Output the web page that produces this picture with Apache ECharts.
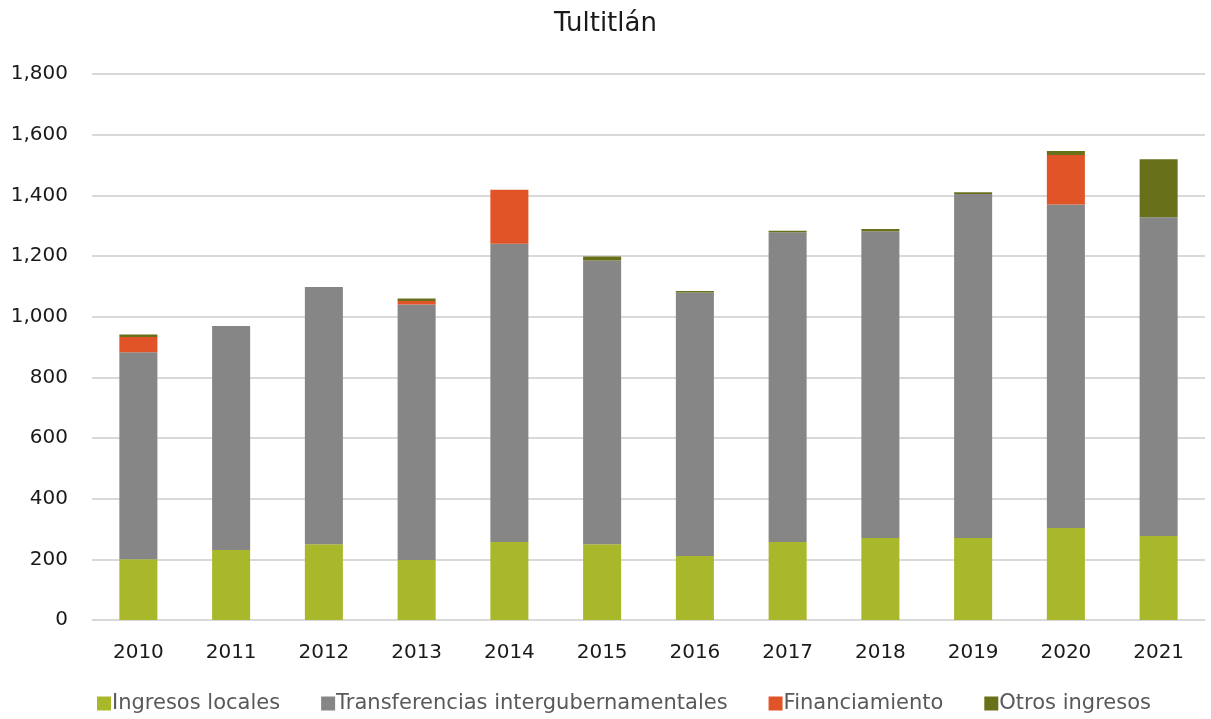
<!DOCTYPE html>
<html>
<head>
<meta charset="utf-8">
<script src="https://cdn.jsdelivr.net/npm/echarts@6/dist/echarts.min.js"></script>
<style>
html,body{margin:0;padding:0;background:#fff;}
#chart{width:1211px;height:719px;}
</style>
</head>
<body>
<div id="chart"></div>
<script>
var years=['2010','2011','2012','2013','2014','2015','2016','2017','2018','2019','2020','2021'];
var seriesNames=['Ingresos locales','Transferencias intergubernamentales','Financiamiento','Otros ingresos'];
var ingresosLocales=[200,231,250,198,257,250,211,257,270,270,303,277];
var transferencias=[683,738,848,842,983,935,869,1021,1012,1134,1067,1051];
var financiamiento=[50,0,0,12,178,0,0,0,0,0,163,0];
var otrosIngresos=[8,0,0,8,0,13,5,5,7,6,13,191];
var colors=['#A8B82A','#868686','#E05427','#687119'];

var myChart=echarts.init(document.getElementById('chart'));
var font='"DejaVu Sans", Helvetica, Arial, sans-serif';
function bar(name,data,color){
    return {
        name:name,
        type:'bar',
        stack:'total',
        barWidth:'41%',
        itemStyle:{color:color},
        data:data
    };
}
var option={
    animation:false,
    color:colors,
    title:{
        text:'Tultitlán',
        left:'center',
        top:6,
        textStyle:{fontFamily:font,fontSize:26,fontWeight:'normal',color:'#1a1a1a'}
    },
    legend:{
        bottom:0,
        left:92,
        itemWidth:14,
        itemHeight:14,
        itemGap:41,
        icon:'rect',
        textStyle:{fontFamily:font,fontSize:21,color:'#595959',padding:[0,0,0,-4]},
        data:seriesNames
    },
    grid:{left:92,right:6,top:74,bottom:99},
    xAxis:{
        type:'category',
        data:years,
        axisLine:{lineStyle:{color:'#d9d9d9',width:1}},
        axisTick:{show:false},
        axisLabel:{fontFamily:font,fontSize:20,color:'#1a1a1a',margin:23}
    },
    yAxis:{
        type:'value',
        min:0,
        max:1800,
        interval:200,
        axisLine:{show:false},
        axisTick:{show:false},
        splitLine:{lineStyle:{color:'#d9d9d9',width:2}},
        axisLabel:{
            fontFamily:font,fontSize:20,color:'#1a1a1a',margin:24,
            formatter:function(v){return v.toLocaleString('en-US');}
        }
    },
    series:[
        bar(seriesNames[0],ingresosLocales,colors[0]),
        bar(seriesNames[1],transferencias,colors[1]),
        bar(seriesNames[2],financiamiento,colors[2]),
        bar(seriesNames[3],otrosIngresos,colors[3])
    ]
};
myChart.setOption(option);
</script>
</body>
</html>
